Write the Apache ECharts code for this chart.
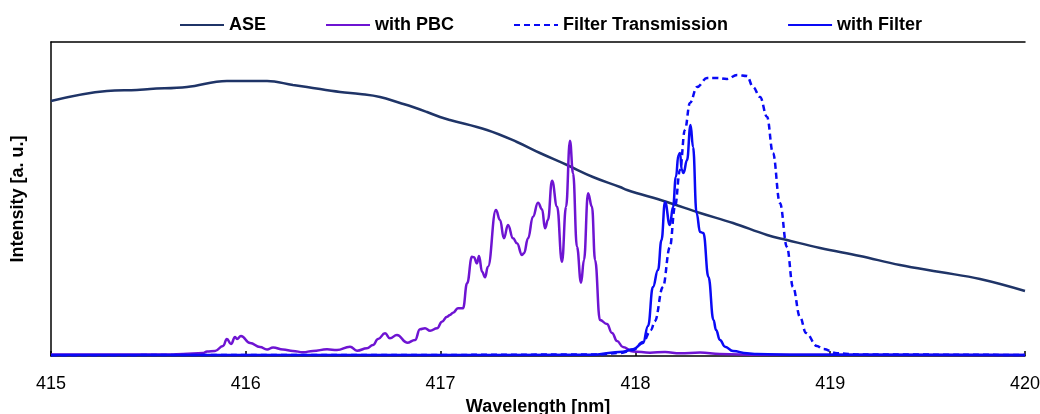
<!DOCTYPE html>
<html>
<head>
<meta charset="utf-8">
<script src="https://cdn.jsdelivr.net/npm/echarts@6/dist/echarts.min.js"></script>
<style>html,body{margin:0;padding:0;background:#fff}#c{width:1040px;height:414px}</style>
</head>
<body>
<div id="c"></div>
<script>
const xTicks = [415, 416, 417, 418, 419, 420];

const aseX = [415.000,415.287,415.441,415.508,415.698,415.903,416.109,416.242,416.314,416.484,416.586,416.689,416.792,416.858,416.930,416.997,417.048,417.238,417.392,417.510,417.649,417.782,417.921,417.957,418.162,418.332,418.501,418.676,418.778,418.948,419.153,419.358,419.564,419.769,420.000];
const aseY = [255,265,266,267,269,275,275,271,269,264,262,259,253,249,244,239,236,226,214,203,191,179,169,166,154,143,133,121,116,108,100,91,84,77,65];

const pbcX = [415.000,415.611,415.678,415.780,415.801,415.842,415.883,415.903,415.924,415.945,415.955,415.975,416.022,416.073,416.109,416.140,416.191,416.242,416.294,416.345,416.417,416.468,416.535,416.571,416.622,416.653,416.679,416.715,416.740,416.776,416.828,416.869,416.894,416.920,416.946,416.982,417.007,417.033,417.048,417.064,417.089,417.115,417.136,417.161,417.171,417.187,417.197,417.213,417.228,417.243,417.284,417.305,417.325,417.346,417.372,417.392,417.418,417.428,417.449,417.474,417.500,417.521,417.536,417.551,417.572,417.598,417.623,417.644,417.664,417.680,417.700,417.721,417.736,417.757,417.777,417.793,417.818,417.854,417.880,417.906,417.936,417.988,418.075,418.152,418.229,418.332,418.434,418.640,420.000];
const pbcY = [1.5,1.5,2,3,4.5,5,10,17,12,19,17,20,13,9,6.5,8.5,6.5,5,3.7,5,6.7,6,9.3,5.3,7.7,11,17,22.7,17.7,21,13.3,16,26.7,27.7,25.3,27.7,34.3,39.3,41,43.3,47.7,47.7,72.7,99.3,98.7,92.7,100,84.3,78.7,89.3,146,136,117.7,131,117.7,112.7,101,102.7,117.7,139.3,153.3,146.7,127.7,136,175.3,149.3,94.3,149.3,215.3,182.7,109.3,73.3,96,162.7,149.3,96,36,32,23,15,9,4.5,3.3,4,2.7,3.5,2,1.2,1];

const ftX = [415.000,416.792,417.818,417.921,417.988,418.039,418.080,418.100,418.141,418.177,418.203,418.229,418.254,418.280,418.316,418.368,418.419,418.470,418.522,418.573,418.604,418.640,418.676,418.706,418.742,418.778,418.809,418.845,418.876,418.932,418.963,419.035,419.153,420.000];
const ftY = [0.8,1,1.5,3,6,14,26,35,69,109,149,186,226,253,269,278,278,277,281,280,269,259,239,203,153,109,69,39,23,10,7,2.7,1.5,1];

const wfX = [415.000,416.792,417.767,417.936,417.988,418.039,418.065,418.090,418.116,418.134,418.152,418.177,418.193,418.208,418.221,418.229,418.238,418.247,418.265,418.283,418.296,418.314,418.332,418.349,418.375,418.401,418.414,418.434,418.460,418.501,418.573,418.624,418.845,420.000];
const wfY = [1,1,1.2,4.3,6.7,13,30,69,86,116,154,131,149,179,201,203,186,183,196,231,209,143,124,123,79,36,26,16,9.3,5,2.7,2,1.2,1];

const zip = (xs, ys) => xs.map((x, i) => [x, ys[i]]);

const chart = echarts.init(document.getElementById('c'), null, {renderer: 'canvas'});
const FONT = 'Liberation Sans, Arial, sans-serif';
const xMin = xTicks[0], xMax = xTicks[xTicks.length - 1];
chart.setOption({
  animation: false,
  backgroundColor: '#fff',
  legend: {
    left: 174, top: 11,
    itemWidth: 44, itemHeight: 14, itemGap: 59,
    itemStyle: {opacity: 0},
    textStyle: {fontFamily: FONT, fontSize: 18, fontWeight: 'bold', color: '#000'},
    data: ['ASE', 'with PBC', 'Filter Transmission', 'with Filter']
  },
  grid: {left: 51, right: 15, top: 42, bottom: 58, outerBoundsMode: 'none', containLabel: false},
  xAxis: [{
    type: 'value', min: xMin, max: xMax, interval: 1,
    name: 'Wavelength [nm]', nameLocation: 'middle', nameGap: 40,
    nameTextStyle: {fontFamily: FONT, fontSize: 18, fontWeight: 'bold', color: '#000'},
    axisLine: {show: true, lineStyle: {color: '#000', width: 1.5}},
    axisTick: {show: true, inside: true, length: 5, lineStyle: {color: '#000', width: 1.5}},
    axisLabel: {fontFamily: FONT, fontSize: 18, color: '#000', margin: 19},
    splitLine: {show: false}
  }, {
    type: 'value', position: 'top', min: xMin, max: xMax, interval: 1,
    axisLine: {show: true, lineStyle: {color: '#000', width: 1.5}},
    axisTick: {show: false}, axisLabel: {show: false}, splitLine: {show: false}
  }],
  yAxis: {
    type: 'value', min: 0, max: 314,
    name: 'Intensity [a. u.]', nameLocation: 'middle', nameGap: 24, nameRotate: 90,
    nameTextStyle: {fontFamily: FONT, fontSize: 18, fontWeight: 'bold', color: '#000'},
    axisLine: {show: true, lineStyle: {color: '#000', width: 1.5}},
    axisTick: {show: false},
    axisLabel: {show: false},
    splitLine: {show: false}
  },
  series: [
    {name: 'ASE', type: 'line', data: zip(aseX, aseY), symbol: 'none', smooth: 0.4,
     lineStyle: {color: '#1F3467', width: 2.5}, itemStyle: {color: '#1F3467'}},
    {name: 'with PBC', type: 'line', data: zip(pbcX, pbcY), symbol: 'none', smooth: 0.45, smoothMonotone: 'x',
     lineStyle: {color: '#6E14D2', width: 2.5}, itemStyle: {color: '#6E14D2'}},
    {name: 'Filter Transmission', type: 'line', data: zip(ftX, ftY), symbol: 'none', smooth: 0.4, smoothMonotone: 'x',
     lineStyle: {color: '#0A0AF5', width: 2.5, type: [6, 4]}, itemStyle: {color: '#0A0AF5'}},
    {name: 'with Filter', type: 'line', data: zip(wfX, wfY), symbol: 'none', smooth: 0.45, smoothMonotone: 'x',
     lineStyle: {color: '#0A0AF5', width: 2.5}, itemStyle: {color: '#0A0AF5'}}
  ]
});
</script>
</body>
</html>
